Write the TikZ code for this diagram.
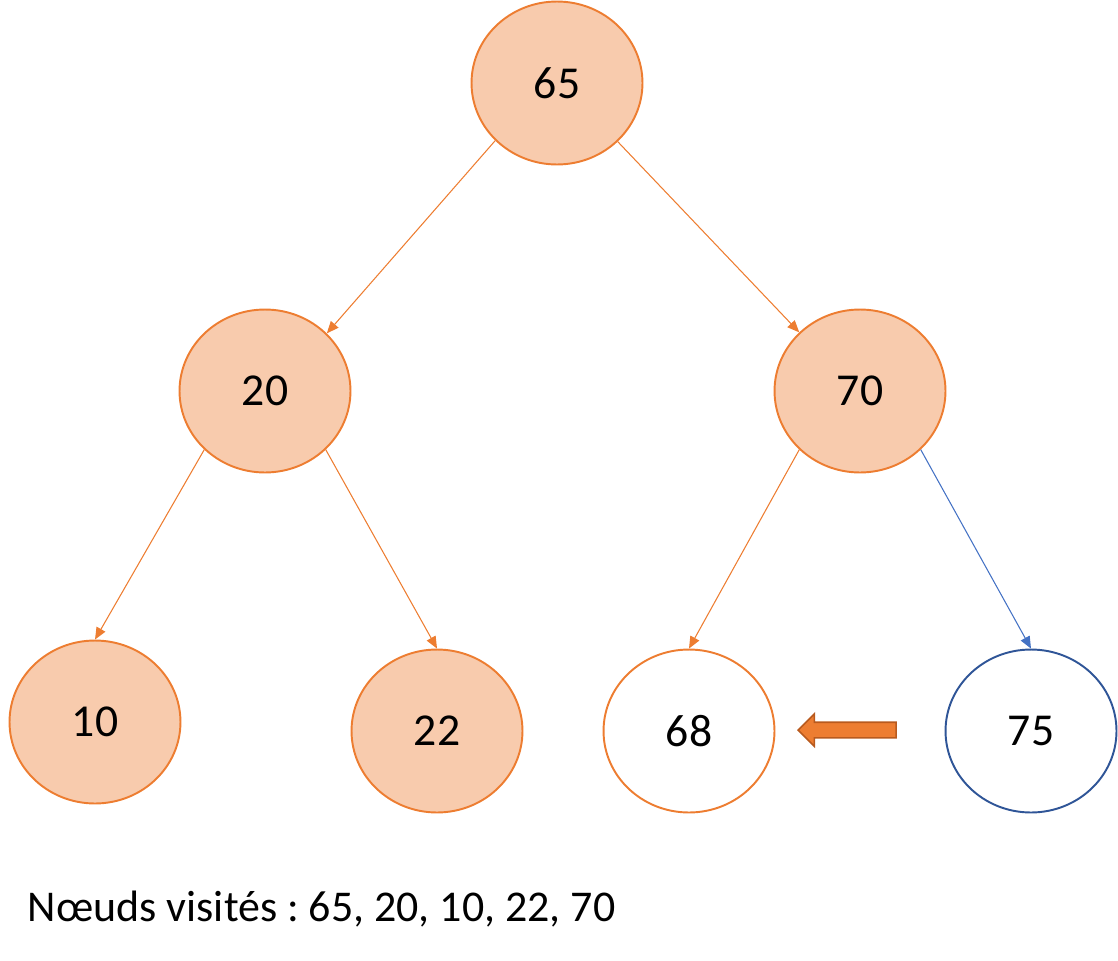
\documentclass[tikz,border=0pt]{standalone}
\usepackage{fontspec}
\setmainfont{Carlito}
\usetikzlibrary{shapes.geometric, shapes.arrows, arrows.meta}
\definecolor{peach}{HTML}{F8CBAD}
\definecolor{orng}{HTML}{ED7D31}
\definecolor{blu}{HTML}{4472C4}
\definecolor{dblu}{HTML}{2F5597}
\definecolor{brwn}{HTML}{B85A1E}
\frenchspacing

\begin{document}
\begin{tikzpicture}[x=0.02cm, y=-0.02cm,
    every node/.style={ellipse, draw=orng, line width=1.1pt, minimum width=3.42cm, minimum height=3.26cm, font=\fontsize{26}{30}\selectfont},
    seen/.style={fill=peach},
    link/.style={orng, line width=0.6pt, -{Triangle[length=0.24cm, width=0.2cm]}}]
        \useasboundingbox (0,0) rectangle (1118,960);

        \node[seen] (N1) at (557,83) {65};
        \node[seen] (N2) at (265,391) {20};
        \node[seen] (N3) at (860,391) {70};
        \node[seen] (N4) at (95,722) {10};
        \node[seen] (N5) at (437,731) {22};
        \node (N6) at (689,731) {68};
        \node[draw=dblu] (N7) at (1031,731) {75};

        \draw[link] (N1.223) -- (N2.43);
        \draw[link] (N1.316) -- (N3.136);
        \draw[link] (N2.224) -- (N4.90);
        \draw[link] (N2.316) -- (N5.90);
        \draw[link] (N3.224) -- (N6.90);
        \draw[link, blu] (N3.316) -- (N7.90);

        \node[single arrow, shape border rotate=180, draw=brwn, fill=orng, line width=0.9pt,
              minimum width=0pt, minimum height=1.96cm, inner sep=0.14cm,
              single arrow head extend=0.17cm, single arrow head indent=0pt] (shift) at (851,730) {};

        \node[draw=none, shape=rectangle, minimum width=0pt, minimum height=0pt,
              inner sep=0pt, anchor=base west, font=\fontsize{25}{30}\selectfont] (visit) at (27,921) {Nœuds visités : 65, 20, 10, 22, 70};
      \end{tikzpicture}
\end{document}
